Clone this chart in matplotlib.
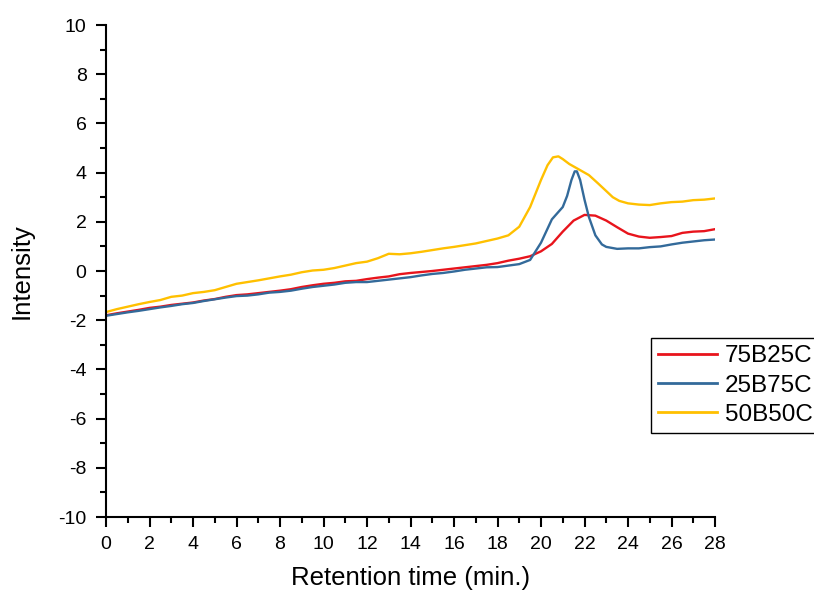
import matplotlib
matplotlib.use("Agg")
import matplotlib.pyplot as plt
from matplotlib.ticker import MultipleLocator

plt.rcParams['font.family'] = ['Liberation Sans', 'DejaVu Sans']
plt.rcParams['axes.unicode_minus'] = False

# valores (tiempo en min, intensidad)
t_75b25c = [0, 0.5, 1, 1.5, 2, 2.5, 3, 3.5, 4, 4.5, 5, 5.5, 6, 6.5, 7, 7.5, 8, 8.5, 9, 9.5,
            10, 10.5, 11, 11.5, 12, 12.5, 13, 13.5, 14, 14.5, 15, 15.5, 16, 16.5, 17, 17.5,
            18, 18.5, 19, 19.5, 20, 20.5, 21, 21.5, 22, 22.5, 23, 23.5, 24, 24.5, 25, 25.5,
            26, 26.5, 27, 27.5, 28]
i_75b25c = [-1.80, -1.72, -1.65, -1.58, -1.50, -1.45, -1.38, -1.33, -1.28, -1.20, -1.14, -1.05,
            -0.98, -0.95, -0.90, -0.85, -0.80, -0.74, -0.65, -0.58, -0.52, -0.48, -0.42, -0.40,
            -0.33, -0.27, -0.22, -0.13, -0.08, -0.04, 0.00, 0.05, 0.10, 0.15, 0.20, 0.25,
            0.32, 0.42, 0.50, 0.60, 0.80, 1.10, 1.60, 2.05, 2.28, 2.25, 2.05, 1.78,
            1.52, 1.40, 1.35, 1.38, 1.42, 1.55, 1.60, 1.62, 1.70]

t_25b75c = [0, 0.5, 1, 1.5, 2, 2.5, 3, 3.5, 4, 4.5, 5, 5.5, 6, 6.5, 7, 7.5, 8, 8.5, 9, 9.5,
            10, 10.5, 11, 11.5, 12, 12.5, 13, 13.5, 14, 14.5, 15, 15.5, 16, 16.5, 17, 17.5,
            18, 18.5, 19, 19.5, 20, 20.5, 21.0, 21.2, 21.4, 21.55, 21.65, 21.8, 22.0, 22.2,
            22.5, 22.8, 23.0, 23.5, 24, 24.5, 25, 25.5, 26, 26.5, 27, 27.5, 28]
i_25b75c = [-1.82, -1.75, -1.68, -1.62, -1.55, -1.48, -1.42, -1.35, -1.30, -1.22, -1.15, -1.08,
            -1.02, -1.00, -0.95, -0.88, -0.85, -0.80, -0.72, -0.65, -0.60, -0.55, -0.48, -0.45,
            -0.45, -0.40, -0.35, -0.30, -0.25, -0.18, -0.12, -0.08, -0.02, 0.05, 0.10, 0.15,
            0.16, 0.22, 0.28, 0.45, 1.15, 2.10, 2.60, 3.05, 3.70, 4.05, 4.05, 3.70, 2.90, 2.20,
            1.45, 1.08, 0.98, 0.90, 0.92, 0.92, 0.97, 1.00, 1.08, 1.15, 1.20, 1.25, 1.28]

t_50b50c = [0, 0.5, 1, 1.5, 2, 2.5, 3, 3.5, 4, 4.5, 5, 5.5, 6, 6.5, 7, 7.5, 8, 8.5, 9, 9.5,
            10, 10.5, 11, 11.5, 12, 12.5, 13, 13.5, 14, 14.5, 15, 15.5, 16, 16.5, 17, 17.5,
            18, 18.5, 19, 19.5, 20, 20.3, 20.55, 20.8, 21.0, 21.3, 21.7, 22.2, 22.6, 23.0, 23.3,
            23.6, 24, 24.5, 25, 25.5, 26, 26.5, 27, 27.5, 28]
i_50b50c = [-1.67, -1.55, -1.45, -1.35, -1.26, -1.18, -1.05, -1.00, -0.90, -0.85, -0.78, -0.65,
            -0.52, -0.45, -0.38, -0.30, -0.22, -0.15, -0.05, 0.02, 0.05, 0.12, 0.22, 0.32,
            0.38, 0.52, 0.70, 0.68, 0.72, 0.78, 0.85, 0.92, 0.98, 1.05, 1.12, 1.22,
            1.32, 1.45, 1.80, 2.60, 3.70, 4.30, 4.62, 4.66, 4.55, 4.35, 4.15, 3.90, 3.58, 3.25,
            3.00, 2.85, 2.75, 2.70, 2.68, 2.75, 2.80, 2.82, 2.88, 2.90, 2.95]

fig = plt.figure(figsize=(8.14, 5.91), dpi=100)
ax = fig.add_axes([106 / 814, 1 - 517 / 591, (715 - 106) / 814, (517 - 25) / 591])

ax.plot(t_75b25c, i_75b25c, color='#E8141C', lw=1.7, label='75B25C')
ax.plot(t_25b75c, i_25b75c, color='#336A9A', lw=1.7, label='25B75C')
ax.plot(t_50b50c, i_50b50c, color='#FFC000', lw=1.7, label='50B50C')

ax.set_xlim(0, 28)
ax.set_ylim(-10, 10)
ax.xaxis.set_major_locator(MultipleLocator(2))
ax.xaxis.set_minor_locator(MultipleLocator(1))
ax.yaxis.set_major_locator(MultipleLocator(2))
ax.yaxis.set_minor_locator(MultipleLocator(1))

# solo ejes izquierdo e inferior
ax.spines['top'].set_visible(False)
ax.spines['right'].set_visible(False)
ax.spines['left'].set_linewidth(1.5)
ax.spines['bottom'].set_linewidth(1.5)
ax.tick_params(which='major', direction='out', length=7, width=1.5, labelsize=14)
ax.tick_params(axis='y', which='major', pad=7)
ax.tick_params(axis='x', which='major', pad=7)
ax.tick_params(which='minor', direction='out', length=4, width=1.5)

ax.set_xlabel('Retention time (min.)', fontsize=18.5, labelpad=9)
ax.set_ylabel('Intensity', fontsize=18.5, labelpad=18)

leg = ax.legend(loc='upper left', bbox_to_anchor=(651 / 814, 1 - 338 / 591),
                bbox_transform=fig.transFigure, fontsize=17.5, frameon=True, fancybox=False,
                framealpha=1, edgecolor='black', borderaxespad=0, handlelength=2.4,
                handletextpad=0.35, labelspacing=0.3, borderpad=0.3)
leg.get_frame().set_linewidth(1.0)
for line in leg.get_lines():
    line.set_linewidth(2.0)

fig.savefig('out.png', dpi=100)
